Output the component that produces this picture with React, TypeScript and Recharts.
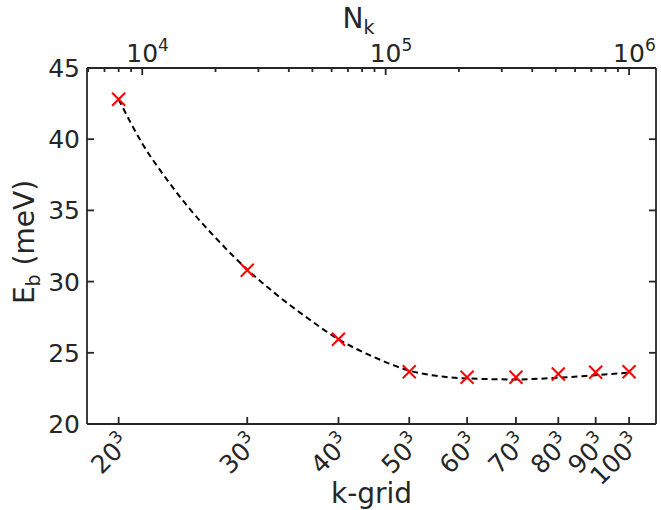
import { ComposedChart, Line, Scatter, XAxis, YAxis } from "recharts";

// k-grid sizes (n) and the number of k-points n^3
const gridSizes = [20, 30, 40, 50, 60, 70, 80, 90, 100];
const kPointCounts = [8000, 27000, 64000, 125000, 216000, 343000, 512000, 729000, 1000000];
const bindingEnergy = [42.8, 30.8, 25.95, 23.67, 23.28, 23.28, 23.51, 23.63, 23.67];

// dashed guide curve
const fitCounts = [8000, 10000, 12590, 15850, 19950, 27000, 34670, 47640, 64000, 89540, 125000, 158500, 216000, 343000, 512000, 729000, 1000000];
const fitEnergy = [42.8, 39.7, 37.2, 35.0, 33.1, 30.85, 29.25, 27.45, 25.95, 24.7, 23.75, 23.4, 23.2, 23.13, 23.25, 23.43, 23.6];

const energyTicks = [20, 25, 30, 35, 40, 45];
const decadeTicks = [10000, 100000, 1000000];
const minorCountTicks = [
  6000, 7000, 8000, 9000,
  20000, 30000, 40000, 50000, 60000, 70000, 80000, 90000,
  200000, 300000, 400000, 500000, 600000, 700000, 800000, 900000
];

const countDomain = [5930, 1290000];
const energyDomain = [20, 45];

const INK = "#262626";
const FONT = "DejaVu Sans";
const TICK_FONT = 25;
const SUP_FONT = 17;
const LABEL_FONT = 28;

const markers = kPointCounts.map((count, i) => ({ count, energy: bindingEnergy[i] }));
const fitLine = fitCounts.map((count, i) => ({ count, energy: fitEnergy[i] }));

function Cross({ cx, cy }: any) {
  const r = 6.5;
  return (
    <g stroke="#ff0000" strokeWidth={2}>
      <line x1={cx - r} y1={cy - r} x2={cx + r} y2={cy + r} />
      <line x1={cx - r} y1={cy + r} x2={cx + r} y2={cy - r} />
    </g>
  );
}

function BottomTick({ x, y, payload }: any) {
  const n = gridSizes[kPointCounts.indexOf(payload.value)];
  return (
    <g>
      <line x1={x} y1={y} x2={x} y2={y - 7} stroke={INK} strokeWidth={1.8} />
      <g transform={`translate(${x + 13},${y + 21}) rotate(-45)`}>
        <text textAnchor="end" fontFamily={FONT} fontSize={TICK_FONT} fill={INK}>
          {n}
          <tspan fontSize={SUP_FONT} dy={-11}>3</tspan>
        </text>
      </g>
    </g>
  );
}

function TopTick({ x, y, payload }: any) {
  const major = decadeTicks.includes(payload.value);
  const exp = Math.round(Math.log10(payload.value));
  return (
    <g>
      <line x1={x} y1={y} x2={x} y2={y + (major ? 7 : 4)} stroke={INK} strokeWidth={1.8} />
      {major && (
        <text x={x - 16} y={y - 6} fontFamily={FONT} fontSize={TICK_FONT} fill={INK}>
          10
          <tspan fontSize={SUP_FONT} dy={-11}>{exp}</tspan>
        </text>
      )}
    </g>
  );
}

function LeftTick({ x, y, payload }: any) {
  return (
    <g>
      <line x1={x} y1={y} x2={x + 7} y2={y} stroke={INK} strokeWidth={1.8} />
      <text x={x - 7} y={y} dy="0.36em" textAnchor="end" fontFamily={FONT} fontSize={TICK_FONT} fill={INK}>
        {payload.value}
      </text>
    </g>
  );
}

function RightTick({ x, y }: any) {
  return <line x1={x} y1={y} x2={x - 7} y2={y} stroke={INK} strokeWidth={1.8} />;
}

const bottomLabel = ({ viewBox }: any) => (
  <text
    x={viewBox.x + viewBox.width / 2}
    y={viewBox.y + 79}
    textAnchor="middle"
    fontFamily={FONT}
    fontSize={LABEL_FONT}
    fill={INK}
  >
    k-grid
  </text>
);

const topLabel = ({ viewBox }: any) => (
  <text x={viewBox.x + viewBox.width / 2 - 29} y={28} fontFamily={FONT} fontSize={LABEL_FONT} fill={INK}>
    N
    <tspan fontSize={19} dy={6}>k</tspan>
  </text>
);

const leftLabel = ({ viewBox }: any) => {
  const cx = 34;
  const cy = viewBox.y + viewBox.height / 2 - 4;
  return (
    <text
      transform={`translate(${cx},${cy}) rotate(-90)`}
      textAnchor="middle"
      fontFamily={FONT}
      fontSize={LABEL_FONT}
      fill={INK}
    >
      E<tspan fontSize={19} dy={6}>b</tspan>
      <tspan dy={-6}> (meV)</tspan>
    </text>
  );
};

export default function App() {
  return (
    <div style={{ position: "absolute", left: 0, top: 0, background: "#fff" }}>
      <ComposedChart width={661} height={510} margin={{ top: 0, right: 0, bottom: 0, left: 0 }}>
        <XAxis
          xAxisId="bottom"
          dataKey="count"
          type="number"
          scale="log"
          domain={countDomain}
          allowDataOverflow
          ticks={kPointCounts}
          interval={0}
          tick={BottomTick}
          tickSize={0}
          tickMargin={0}
          height={86}
          axisLine={{ stroke: INK, strokeWidth: 1.8 }}
          label={bottomLabel}
        />
        <XAxis
          xAxisId="top"
          orientation="top"
          dataKey="count"
          type="number"
          scale="log"
          domain={countDomain}
          allowDataOverflow
          ticks={[...minorCountTicks, ...decadeTicks]}
          interval={0}
          tick={TopTick}
          tickSize={0}
          tickMargin={0}
          height={68}
          axisLine={{ stroke: INK, strokeWidth: 1.8 }}
          label={topLabel}
        />
        <YAxis
          yAxisId="left"
          dataKey="energy"
          type="number"
          domain={energyDomain}
          allowDataOverflow
          ticks={energyTicks}
          interval={0}
          tick={LeftTick}
          tickSize={0}
          tickMargin={0}
          width={87}
          axisLine={{ stroke: INK, strokeWidth: 1.8 }}
          label={leftLabel}
        />
        <YAxis
          yAxisId="right"
          orientation="right"
          dataKey="energy"
          type="number"
          domain={energyDomain}
          allowDataOverflow
          ticks={energyTicks}
          interval={0}
          tick={RightTick}
          tickSize={0}
          tickMargin={0}
          width={5}
          axisLine={{ stroke: INK, strokeWidth: 1.8 }}
        />
        <Line
          xAxisId="top"
          yAxisId="right"
          data={fitLine}
          dataKey="energy"
          type="monotone"
          stroke="#000"
          strokeWidth={2}
          strokeDasharray="6 4"
          dot={false}
          activeDot={false}
          isAnimationActive={false}
        />
        <Scatter
          xAxisId="bottom"
          yAxisId="left"
          data={markers}
          dataKey="energy"
          shape={Cross}
          isAnimationActive={false}
        />
      </ComposedChart>
    </div>
  );
}
